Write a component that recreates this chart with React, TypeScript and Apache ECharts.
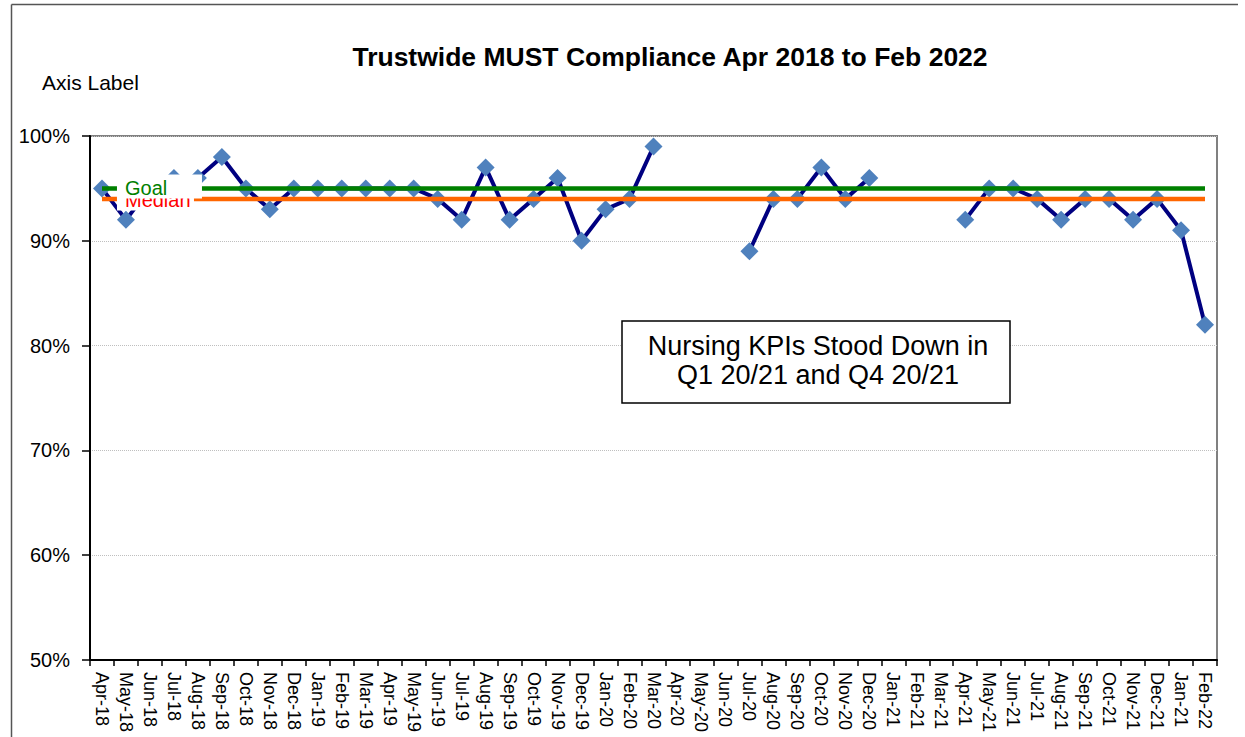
import React, { useEffect, useRef } from "react";
import * as echarts from "echarts";

const categories = [
  "Apr-18", "May-18", "Jun-18", "Jul-18", "Aug-18", "Sep-18", "Oct-18", "Nov-18", "Dec-18",
  "Jan-19", "Feb-19", "Mar-19", "Apr-19", "May-19", "Jun-19", "Jul-19", "Aug-19", "Sep-19",
  "Oct-19", "Nov-19", "Dec-19", "Jan-20", "Feb-20", "Mar-20", "Apr-20", "May-20", "Jun-20",
  "Jul-20", "Aug-20", "Sep-20", "Oct-20", "Nov-20", "Dec-20", "Jan-21", "Feb-21", "Mar-21",
  "Apr-21", "May-21", "Jun-21", "Jul-21", "Aug-21", "Sep-21", "Oct-21", "Nov-21", "Dec-21",
  "Jan-21", "Feb-22",
];

const compliance: (number | null)[] = [
  95, 92, 95, 96, 96, 98, 95, 93, 95,
  95, 95, 95, 95, 95, 94, 92, 97, 92,
  94, 96, 90, 93, 94, 99, null, null, null,
  89, 94, 94, 97, 94, 96, null, null, null,
  92, 95, 95, 94, 92, 94, 94, 92, 94,
  91, 82,
];

const goalValue = 95;
const medianValue = 94;
const yTicks = [50, 60, 70, 80, 90, 100];

const FONT = "'Liberation Sans', Arial, sans-serif";

export default function App() {
  const ref = useRef<HTMLDivElement>(null);

  useEffect(() => {
    if (!ref.current) return;
    const chart = echarts.init(ref.current, undefined, { renderer: "svg" });

    const goalData = categories.map((_, i) =>
      i === 1
        ? {
            value: goalValue,
            symbol: "rect",
            symbolSize: [85, 24],
            symbolOffset: [33.5, -2],
            itemStyle: { color: "#ffffff" },
            label: {
              show: true,
              formatter: "Goal",
              position: "insideLeft",
              distance: 8,
              offset: [0, 2],
              color: "#008000",
              fontSize: 20,
              fontFamily: FONT,
            },
          }
        : { value: goalValue, symbol: "none" }
    );

    const medianData = categories.map((_, i) =>
      i === 1
        ? {
            value: medianValue,
            symbol: "rect",
            symbolSize: [77, 21],
            symbolOffset: [29.5, 1],
            itemStyle: { color: "#ffffff" },
            label: {
              show: true,
              formatter: "Median",
              position: "insideLeft",
              distance: 8,
              color: "#ff0000",
              fontSize: 20,
              fontFamily: FONT,
            },
          }
        : { value: medianValue, symbol: "none" }
    );

    chart.setOption({
      animation: false,
      backgroundColor: "#ffffff",
      textStyle: { fontFamily: FONT },
      title: {
        text: "Trustwide MUST Compliance Apr 2018 to Feb 2022",
        left: 670,
        top: 43.5,
        padding: 0,
        textAlign: "center",
        textStyle: { fontSize: 26.5, fontWeight: "bold", color: "#000", fontFamily: FONT },
      },
      grid: {
        left: 90,
        right: 28,
        top: 136,
        bottom: 77,
        containLabel: false,
        outerBoundsMode: "none",
        show: true,
        backgroundColor: "#ffffff",
        borderColor: "#808080",
        borderWidth: 2,
      },
      xAxis: {
        type: "category",
        data: categories,
        boundaryGap: true,
        axisLine: { show: true, lineStyle: { color: "#000", width: 2 } },
        axisTick: { show: true, interval: 0, length: 6, alignWithLabel: false, lineStyle: { color: "#000", width: 1.5 } },
        axisLabel: {
          interval: 0,
          rotate: -90,
          margin: 12,
          fontSize: 18,
          color: "#000",
          fontFamily: FONT,
        },
        splitLine: { show: false },
      },
      yAxis: {
        type: "value",
        min: yTicks[0],
        max: yTicks[yTicks.length - 1],
        interval: 10,
        axisLine: { show: true, lineStyle: { color: "#000", width: 2 } },
        axisTick: { show: true, length: 8, lineStyle: { color: "#000", width: 1.5 } },
        axisLabel: {
          formatter: "{value}%",
          fontSize: 20,
          color: "#000",
          margin: 20,
          fontFamily: FONT,
        },
        splitLine: { show: true, lineStyle: { color: "#bfbfbf", type: "dotted", width: 1 } },
      },
      series: [
        {
          name: "Compliance",
          type: "line",
          z: 2,
          data: compliance,
          connectNulls: false,
          symbol: "diamond",
          symbolSize: 18,
          itemStyle: { color: "#4F81BD" },
          lineStyle: { color: "#000080", width: 4 },
          emphasis: { disabled: true },
        },
        {
          name: "Median",
          type: "line",
          z: 3,
          data: medianData,
          symbol: "none",
          lineStyle: { color: "#FF6600", width: 4.5 },
          emphasis: { disabled: true },
        },
        {
          name: "Goal",
          type: "line",
          z: 4,
          data: goalData,
          symbol: "none",
          lineStyle: { color: "#008000", width: 4.5 },
          emphasis: { disabled: true },
        },
      ],
      graphic: [
        {
          type: "line",
          shape: { x1: 11.5, y1: 4.5, x2: 11.5, y2: 760 },
          style: { stroke: "#555555", lineWidth: 1.5 },
          silent: true,
        },
        {
          type: "line",
          shape: { x1: 11.5, y1: 4.5, x2: 1238, y2: 4.5 },
          style: { stroke: "#555555", lineWidth: 1.5 },
          silent: true,
        },
        {
          type: "text",
          left: 42,
          top: 72,
          style: { text: "Axis Label", fontSize: 21, fill: "#000", fontFamily: FONT },
          silent: true,
        },
        {
          type: "rect",
          shape: { x: 622, y: 321, width: 388, height: 82 },
          style: { fill: "#ffffff", stroke: "#000000", lineWidth: 1.5 },
          z: 10,
          silent: true,
        },
        {
          type: "text",
          x: 818,
          y: 360,
          z: 11,
          style: {
            text: "Nursing KPIs Stood Down in\nQ1 20/21 and Q4 20/21",
            fontSize: 27,
            lineHeight: 29,
            fill: "#000",
            align: "center",
            verticalAlign: "middle",
            fontFamily: FONT,
          },
          silent: true,
        },
      ],
    });

    return () => chart.dispose();
  }, []);

  return (
    <div
      ref={ref}
      style={{ position: "fixed", left: 0, top: 0, width: 1245, height: 737, background: "#fff" }}
    />
  );
}
